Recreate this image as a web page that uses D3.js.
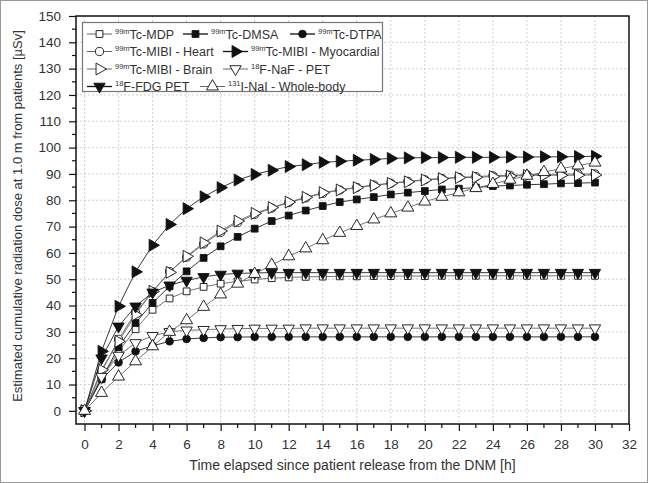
<!DOCTYPE html>
<html>
<head>
<meta charset="utf-8">
<script src="https://cdn.jsdelivr.net/npm/d3@7/dist/d3.min.js"></script>
<style>
  html, body { margin: 0; padding: 0; background: #fff; }
  svg { display: block; font-family: "Liberation Sans", Arial, sans-serif; }
</style>
</head>
<body>
<svg id="chart" width="648" height="483"></svg>
<script>
// ---------- data ----------
const hours = d3.range(0, 31);
const xTicks = d3.range(0, 33, 2);
const yTicks = d3.range(0, 151, 10);

const isotopes = ["99m", "99m", "99m", "99m", "99m", "99m", "18", "18", "131"];
const names = ["Tc-MDP", "Tc-DMSA", "Tc-DTPA", "Tc-MIBI - Heart", "Tc-MIBI - Myocardial",
               "Tc-MIBI - Brain", "F-NaF - PET", "F-FDG PET", "I-NaI - Whole-body"];

const mdp = [0, 12.5, 22.5, 31.0, 38.4, 42.7, 45.4, 47.1, 48.3, 49.2, 49.9, 50.4, 50.7, 50.9, 51.0, 51.1,
             51.1, 51.2, 51.2, 51.2, 51.2, 51.3, 51.3, 51.3, 51.3, 51.3, 51.3, 51.3, 51.3, 51.3, 51.3];
const dmsa = [0, 12.0, 24.2, 33.4, 41.0, 47.3, 53.0, 58.1, 62.5, 66.1, 69.2, 72.1, 74.2, 76.1, 77.8, 79.3,
              80.3, 81.2, 82.2, 82.9, 83.5, 84.1, 84.4, 84.8, 85.4, 85.6, 85.9, 86.1, 86.4, 86.5, 86.7];
const dtpa = [0, 12.0, 18.4, 22.6, 24.7, 26.4, 27.3, 27.7, 28.0, 28.0, 28.1, 28.1, 28.1, 28.1, 28.1, 28.1,
              28.1, 28.1, 28.1, 28.1, 28.1, 28.1, 28.1, 28.1, 28.1, 28.1, 28.1, 28.1, 28.1, 28.1, 28.1];
const heart = [0, 14.8, 27.2, 37.3, 45.3, 52.9, 58.4, 63.4, 67.8, 71.6, 74.6, 77.0, 79.1, 80.9, 82.6, 83.9,
               84.9, 85.8, 86.5, 87.2, 87.8, 88.3, 88.7, 89.0, 89.3, 89.5, 89.7, 89.8, 89.9, 90.0, 90.0];
const myocardial = [0, 22.6, 39.7, 52.8, 62.9, 70.8, 76.8, 81.3, 84.8, 87.7, 89.8, 91.4, 92.8, 93.5, 94.4, 94.8,
                    95.2, 95.5, 95.9, 96.1, 96.2, 96.2, 96.3, 96.3, 96.3, 96.4, 96.4, 96.5, 96.5, 96.6, 96.7];
const brain = [0, 15.6, 26.4, 36.5, 45.4, 52.6, 58.7, 63.8, 68.3, 72.1, 75.0, 77.2, 79.3, 81.1, 82.9, 83.9,
               84.8, 85.6, 86.4, 87.0, 87.7, 88.2, 88.6, 88.7, 89.0, 89.2, 89.4, 89.5, 89.5, 89.5, 89.6];
const naf = [0, 13.0, 21.0, 25.8, 28.5, 30.0, 30.6, 30.8, 31.1, 31.2, 31.3, 31.3, 31.3, 31.4, 31.4, 31.4,
             31.4, 31.4, 31.4, 31.4, 31.4, 31.4, 31.4, 31.4, 31.4, 31.4, 31.4, 31.4, 31.4, 31.4, 31.4];
const fdg = [0, 20.0, 32.1, 39.7, 45.0, 47.7, 49.5, 50.9, 51.8, 52.2, 52.4, 52.5, 52.5, 52.5, 52.5, 52.5,
             52.5, 52.5, 52.5, 52.5, 52.5, 52.5, 52.5, 52.5, 52.5, 52.5, 52.5, 52.5, 52.5, 52.5, 52.5];
const nai = [0, 6.8, 13.0, 18.8, 24.5, 30.0, 34.4, 39.5, 44.2, 48.3, 52.0, 55.4, 58.7, 61.7, 64.8, 67.6,
             70.2, 72.7, 75.0, 77.2, 79.5, 81.3, 83.0, 84.6, 86.2, 87.8, 89.3, 90.7, 92.0, 93.2, 94.3];

const seriesValues = [mdp, dmsa, dtpa, heart, myocardial, brain, naf, fdg, nai];

// marker styles: shape, rotation, filled, size
const markerStyle = [
  { shape: d3.symbolSquare,   rot: 0,   filled: false, size: 46 },
  { shape: d3.symbolSquare,   rot: 0,   filled: true,  size: 46 },
  { shape: d3.symbolCircle,   rot: 0,   filled: true,  size: 46 },
  { shape: d3.symbolCircle,   rot: 0,   filled: false, size: 52 },
  { shape: d3.symbolTriangle, rot: 90,  filled: true,  size: 62 },
  { shape: d3.symbolTriangle, rot: 90,  filled: false, size: 62 },
  { shape: d3.symbolTriangle, rot: 180, filled: false, size: 56 },
  { shape: d3.symbolTriangle, rot: 180, filled: true,  size: 56 },
  { shape: d3.symbolTriangle, rot: 0,   filled: false, size: 62 }
];

// ---------- layout ----------
const W = 648, H = 483;
const pL = 76, pR = 629, pT = 16, pB = 424;
const svg = d3.select("#chart");

const x = d3.scaleLinear().domain([-0.5, 32]).range([pL, pR]);
const y = d3.scaleLinear().domain([-5, 150]).range([pB, pT]);

// outer border
svg.append("rect").attr("x", 0.5).attr("y", 0.5).attr("width", W - 1).attr("height", H - 1)
  .attr("fill", "#fff").attr("stroke", "#9a9a9a").attr("stroke-width", 1);

// grid
const grid = svg.append("g").attr("stroke", "#c4c4c4").attr("stroke-width", 0.8)
  .attr("stroke-dasharray", "2,2").attr("fill", "none");
xTicks.filter(v => v < 32).forEach(v => {
  grid.append("line").attr("x1", x(v)).attr("x2", x(v)).attr("y1", pT).attr("y2", pB);
});
yTicks.filter(v => v < 150).forEach(v => {
  grid.append("line").attr("x1", pL).attr("x2", pR).attr("y1", y(v)).attr("y2", y(v));
});

// axes
const xAxis = d3.axisBottom(x).tickValues(xTicks).tickSize(7).tickPadding(8).tickFormat(d3.format("d"));
const gx = svg.append("g").attr("transform", `translate(0,${pB})`).call(xAxis);
const yAxis = d3.axisLeft(y).tickValues(yTicks).tickSize(7).tickPadding(8).tickFormat(d3.format("d"));
const gy = svg.append("g").attr("transform", `translate(${pL},0)`).call(yAxis);
[gx, gy].forEach(g => {
  g.select(".domain").remove();
  g.selectAll(".tick line").attr("stroke", "#111").attr("stroke-width", 1.2);
  g.selectAll(".tick text").attr("fill", "#333").style("font-size", "13.5px")
    .style("font-family", "'Liberation Sans', Arial, sans-serif");
});
// minor ticks
const minor = svg.append("g").attr("stroke", "#111").attr("stroke-width", 1.2);
d3.range(1, 32, 2).forEach(v => {
  minor.append("line").attr("x1", x(v)).attr("x2", x(v)).attr("y1", pB).attr("y2", pB + 4);
});
d3.range(5, 150, 10).forEach(v => {
  minor.append("line").attr("x1", pL).attr("x2", pL - 4).attr("y1", y(v)).attr("y2", y(v));
});

// frame
svg.append("rect").attr("x", pL).attr("y", pT).attr("width", pR - pL).attr("height", pB - pT)
  .attr("fill", "none").attr("stroke", "#111").attr("stroke-width", 1.5);

// axis titles
svg.append("text").attr("x", (pL + pR) / 2).attr("y", 470).attr("text-anchor", "middle")
  .attr("fill", "#333").style("font-size", "14px")
  .text("Time elapsed since patient release from the DNM [h]");
svg.append("text").attr("transform", `translate(22,${(pT + pB) / 2 - 4}) rotate(-90)`)
  .attr("text-anchor", "middle").attr("fill", "#333").style("font-size", "13px")
  .text("Estimated cumulative radiation dose at 1.0 m from patients [\u00B5Sv]");

// series
const line = d3.line().x((d, i) => x(hours[i])).y(d => y(d));
function drawMarker(g, st, cx, cy) {
  g.append("path")
    .attr("d", d3.symbol().type(st.shape).size(st.size)())
    .attr("transform", `translate(${cx},${cy}) rotate(${st.rot})`)
    .attr("fill", st.filled ? "#111" : "#fff")
    .attr("stroke", "#111").attr("stroke-width", 0.9);
}
seriesValues.forEach((vals, si) => {
  const st = markerStyle[si];
  const g = svg.append("g");
  g.append("path").datum(vals).attr("d", line).attr("fill", "none")
    .attr("stroke", st.filled ? "#222" : "#666").attr("stroke-width", 0.9);
  vals.forEach((v, i) => drawMarker(g, st, x(hours[i]), y(v)));
});

// legend (row layout: series index and symbol start x)
const legRows = [
  [[0, 87], [1, 183], [2, 290]],
  [[3, 87], [4, 223]],
  [[5, 87], [6, 223]],
  [[7, 87], [8, 200]]
];
const lg = svg.append("g");
lg.append("rect").attr("x", 82.5).attr("y", 22.5).attr("width", 300).attr("height", 69)
  .attr("fill", "#fff").attr("stroke", "#777").attr("stroke-width", 1.2);
legRows.forEach((row, ri) => {
  const cy = 34 + ri * 17.5;
  row.forEach(([si, cx]) => {
    const st = markerStyle[si];
    lg.append("line").attr("x1", cx).attr("x2", cx + 25).attr("y1", cy).attr("y2", cy)
      .attr("stroke", st.filled ? "#111" : "#555").attr("stroke-width", st.filled ? 1.3 : 0.9);
    drawMarker(lg, st, cx + 12.5, cy);
    const t = lg.append("text").attr("x", cx + 28).attr("y", cy + 4.5).attr("fill", "#333")
      .style("font-size", "12.5px");
    t.append("tspan").text(isotopes[si]).style("font-size", "7.5px").attr("dy", -5);
    t.append("tspan").text(names[si]).attr("dy", 5);
  });
});
</script>
</body>
</html>
